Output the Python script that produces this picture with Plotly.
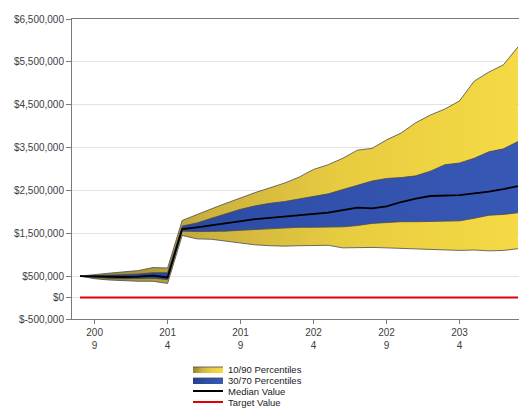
import plotly.graph_objects as go

years = [2008, 2009, 2010, 2011, 2012, 2013, 2014, 2015, 2016, 2017, 2018, 2019, 2020,
         2021, 2022, 2023, 2024, 2025, 2026, 2027, 2028, 2029, 2030, 2031, 2032, 2033,
         2034, 2035, 2036, 2037, 2038]

p10 = [500000, 440000, 410000, 390000, 380000, 380000, 330000, 1450000, 1370000, 1360000,
       1320000, 1280000, 1230000, 1210000, 1200000, 1210000, 1220000, 1220000, 1160000,
       1170000, 1170000, 1160000, 1150000, 1140000, 1120000, 1120000, 1100000, 1110000,
       1090000, 1100000, 1140000]
p90 = [500000, 540000, 570000, 600000, 630000, 700000, 690000, 1800000, 1940000, 2070000,
       2200000, 2330000, 2450000, 2560000, 2670000, 2810000, 2990000, 3100000, 3250000,
       3440000, 3480000, 3680000, 3840000, 4080000, 4260000, 4400000, 4590000, 5050000,
       5260000, 5430000, 5850000]
p30 = [500000, 470000, 450000, 440000, 440000, 450000, 420000, 1550000, 1540000, 1540000,
       1550000, 1570000, 1590000, 1610000, 1630000, 1640000, 1640000, 1650000, 1650000,
       1680000, 1730000, 1750000, 1770000, 1770000, 1780000, 1780000, 1790000, 1850000,
       1920000, 1940000, 1980000]
p70 = [500000, 510000, 520000, 530000, 550000, 580000, 580000, 1670000, 1740000, 1850000,
       1960000, 2060000, 2140000, 2200000, 2240000, 2300000, 2360000, 2420000, 2520000,
       2620000, 2720000, 2780000, 2800000, 2840000, 2950000, 3100000, 3140000, 3250000,
       3400000, 3470000, 3640000]
median = [500000, 490000, 480000, 480000, 490000, 510000, 470000, 1600000, 1640000, 1690000,
          1740000, 1790000, 1830000, 1860000, 1890000, 1920000, 1950000, 1980000, 2040000,
          2100000, 2080000, 2130000, 2230000, 2310000, 2370000, 2380000, 2390000, 2430000,
          2470000, 2530000, 2600000]
target = [0, 0, 0, 0, 0, 0, 0, 0, 0, 0, 0, 0, 0, 0, 0, 0, 0, 0, 0, 0, 0, 0, 0, 0, 0, 0,
          0, 0, 0, 0, 0]

x_tickvals = [2009, 2014, 2019, 2024, 2029, 2034]
x_ticktext = ["200<br>9", "201<br>4", "201<br>9", "202<br>4", "202<br>9", "203<br>4"]
y_tickvals = [-500000, 0, 500000, 1500000, 2500000, 3500000, 4500000, 5500000, 6500000]
y_ticktext = ["$-500,000", "$0", "$500,000", "$1,500,000", "$2,500,000", "$3,500,000",
              "$4,500,000", "$5,500,000", "$6,500,000"]

names = ["10/90 Percentiles", "30/70 Percentiles", "Median Value", "Target Value"]

FONT = "Liberation Sans, Arial, sans-serif"
edge = dict(color="#4a4a4a", width=0.8)

fig = go.Figure()
fig.add_trace(go.Scatter(x=years, y=p10, mode="lines", line=edge, showlegend=False,
                         hoverinfo="skip"))
fig.add_trace(go.Scatter(x=years, y=p90, mode="lines", line=edge, fill="tonexty",
                         fillgradient=dict(type="horizontal",
                                           colorscale=[[0, "#8e8232"], [0.3, "#cdb23e"],
                                                       [0.6, "#e8cc40"], [1, "#f5da45"]]),
                         name=names[0], legend="legend"))
fig.add_trace(go.Scatter(x=years, y=p30, mode="lines", line=edge, showlegend=False,
                         hoverinfo="skip"))
fig.add_trace(go.Scatter(x=years, y=p70, mode="lines", line=edge, fill="tonexty",
                         fillgradient=dict(type="horizontal",
                                           colorscale=[[0, "#23408f"], [0.4, "#2f4ea8"],
                                                       [1, "#3858b6"]]),
                         name=names[1], legend="legend2"))
fig.add_trace(go.Scatter(x=years, y=median, mode="lines", line=dict(color="#000000", width=1.8),
                         name=names[2], legend="legend3"))
fig.add_trace(go.Scatter(x=years, y=target, mode="lines", line=dict(color="#e00000", width=2),
                         name=names[3], legend="legend4"))

def leg(ypos):
    return dict(x=0.2595, xanchor="left", y=ypos, yanchor="middle",
                bgcolor="rgba(0,0,0,0)", borderwidth=0,
                font=dict(family=FONT, size=9.5, color="#1a1a1a"))

fig.update_layout(
    width=519, height=409, autosize=False,
    margin=dict(l=72, r=0, t=19, b=90, autoexpand=False),
    paper_bgcolor="white", plot_bgcolor="white",
    font=dict(family=FONT, size=10, color="#404040"),
    legend=leg(-0.1667), legend2=leg(-0.2033), legend3=leg(-0.240), legend4=leg(-0.2767),
    xaxis=dict(range=[2007.452, 2038.07], tickmode="array", tickvals=x_tickvals,
               ticktext=x_ticktext, showgrid=False, zeroline=False, automargin=False,
               showline=True, linecolor="#7a7a7a", linewidth=1, mirror=True,
               ticks="outside", ticklen=4, tickcolor="#7a7a7a",
               tickfont=dict(family=FONT, size=10, color="#404040")),
    yaxis=dict(range=[-500000, 6500000], tickmode="array", tickvals=y_tickvals,
               ticktext=y_ticktext, showgrid=True, gridcolor="#e3e3e3", gridwidth=1,
               zeroline=False, automargin=False, showline=True, linecolor="#7a7a7a",
               linewidth=1, ticks="outside", ticklen=5, tickcolor="#7a7a7a",
               tickfont=dict(family=FONT, size=10, color="#404040")),
)

# remove the browser's default 8px body margin so the figure fills the window exactly
fig.write_html("out.html", config={"displayModeBar": False},
               post_script="document.body.style.margin='0';document.body.style.overflow='hidden';")
